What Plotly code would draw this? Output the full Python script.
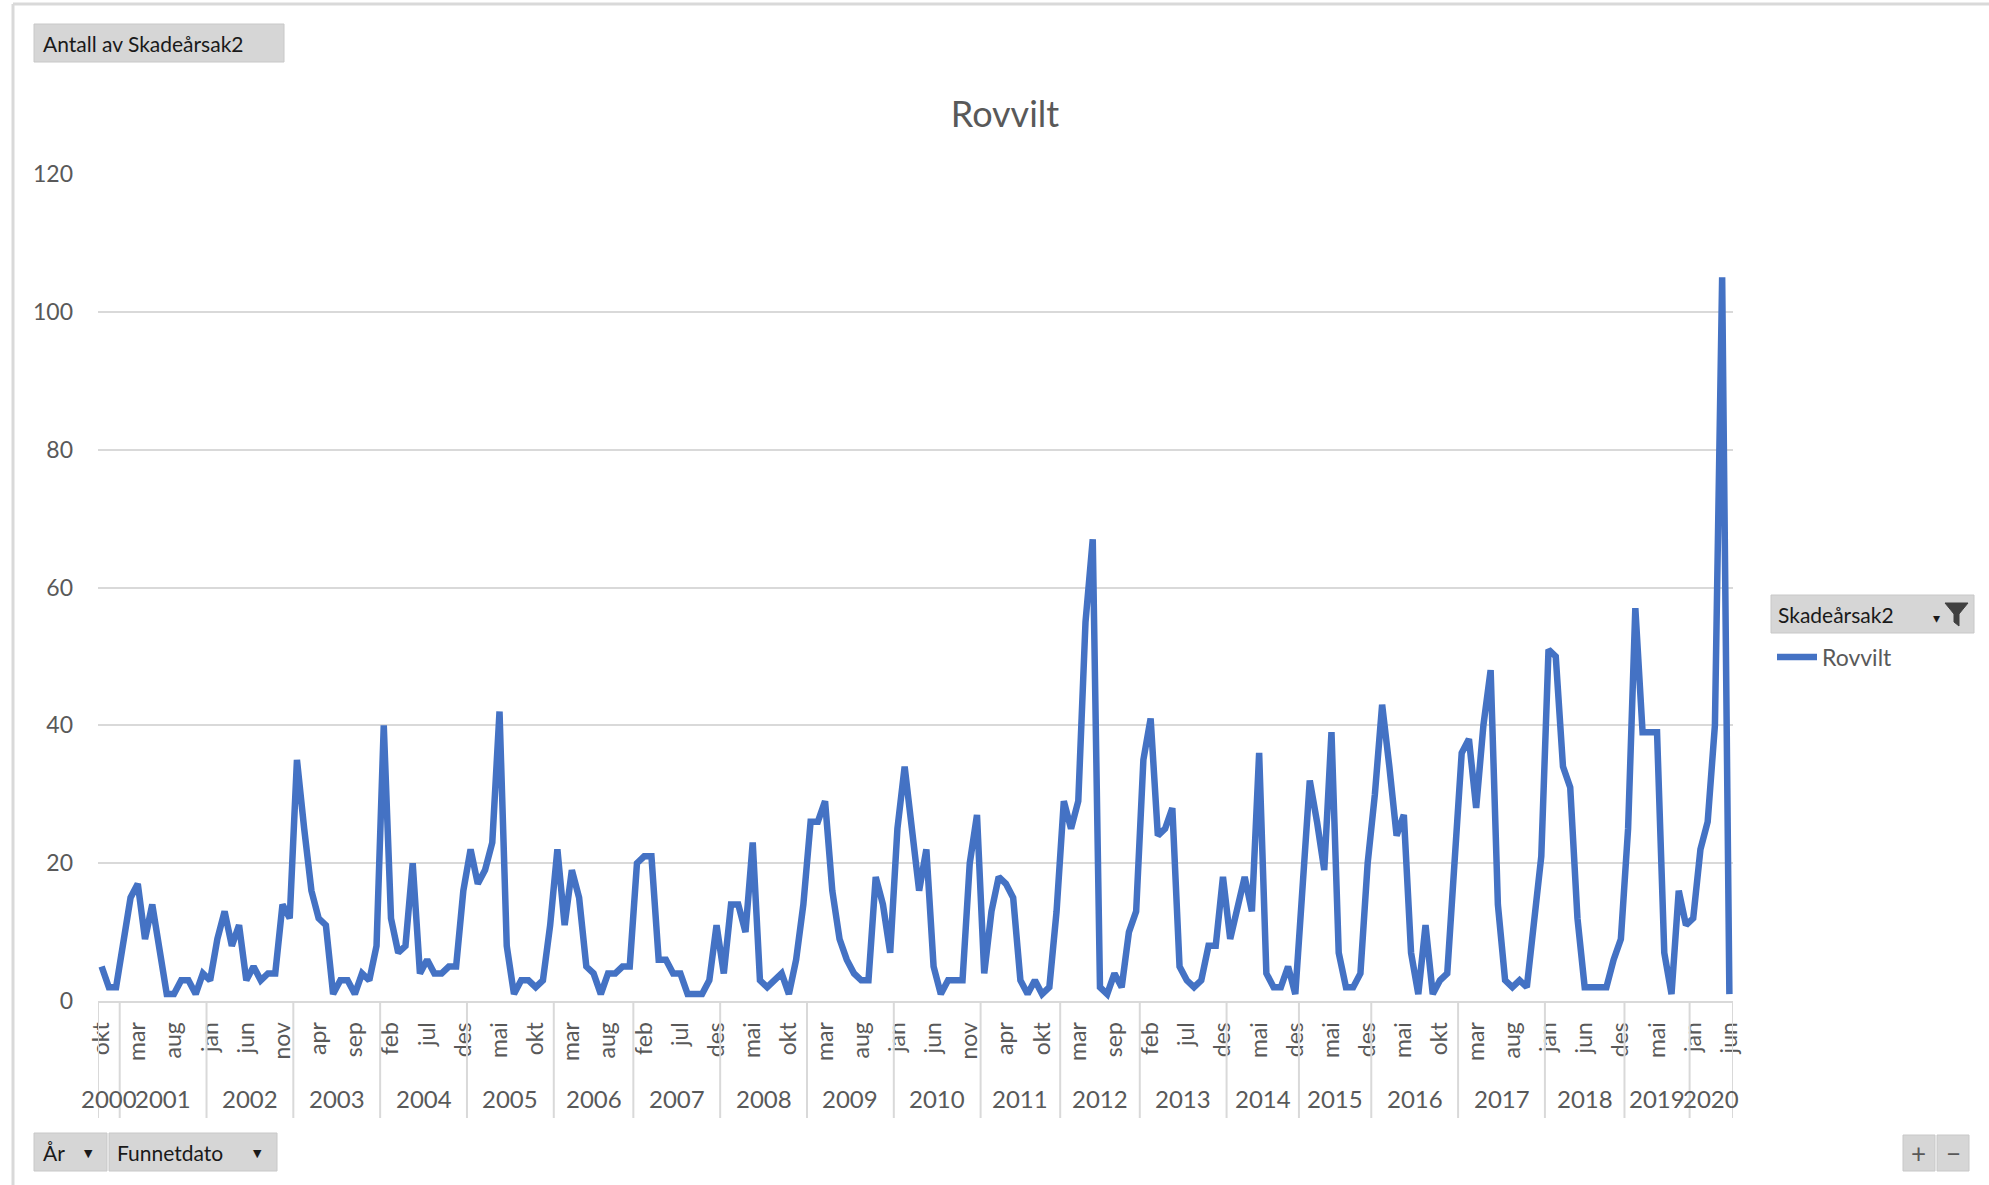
import plotly.graph_objects as go

# ---------------- data ----------------
years = list(range(2000, 2021))
months_by_year = {
    2000: ["okt", "nov", "des"],
    2001: ["jan", "feb", "mar", "apr", "mai", "jun", "jul", "aug", "sep", "okt", "nov", "des"],
    2002: ["jan", "feb", "mar", "apr", "mai", "jun", "jul", "aug", "sep", "okt", "nov", "des"],
    2003: ["jan", "feb", "mar", "apr", "mai", "jun", "jul", "aug", "sep", "okt", "nov", "des"],
    2004: ["jan", "feb", "mar", "apr", "mai", "jun", "jul", "aug", "sep", "okt", "nov", "des"],
    2005: ["jan", "feb", "mar", "apr", "mai", "jun", "jul", "aug", "sep", "okt", "nov", "des"],
    2006: ["jan", "feb", "mar", "apr", "mai", "jun", "jul", "aug", "sep", "okt", "des"],
    2007: ["jan", "feb", "mar", "apr", "mai", "jun", "jul", "aug", "sep", "okt", "nov", "des"],
    2008: ["jan", "feb", "mar", "apr", "mai", "jun", "jul", "aug", "sep", "okt", "nov", "des"],
    2009: ["jan", "feb", "mar", "apr", "mai", "jun", "jul", "aug", "sep", "okt", "nov", "des"],
    2010: ["jan", "feb", "mar", "apr", "mai", "jun", "jul", "aug", "sep", "okt", "nov", "des"],
    2011: ["jan", "feb", "mar", "apr", "mai", "jun", "aug", "sep", "okt", "nov", "des"],
    2012: ["jan", "feb", "mar", "apr", "mai", "jun", "jul", "sep", "okt", "nov", "des"],
    2013: ["jan", "feb", "mar", "apr", "mai", "jun", "jul", "aug", "sep", "okt", "nov", "des"],
    2014: ["jan", "feb", "mar", "apr", "mai", "jun", "jul", "okt", "nov", "des"],
    2015: ["jan", "feb", "mar", "apr", "mai", "jun", "jul", "okt", "nov", "des"],
    2016: ["jan", "feb", "mar", "apr", "mai", "jun", "jul", "aug", "sep", "okt", "nov", "des"],
    2017: ["jan", "feb", "mar", "apr", "mai", "jun", "jul", "aug", "sep", "okt", "nov", "des"],
    2018: ["jan", "feb", "mar", "apr", "mai", "jun", "jul", "aug", "sep", "okt", "des"],
    2019: ["jan", "feb", "mar", "apr", "mai", "jun", "jul", "aug", "sep"],
    2020: ["jan", "feb", "mar", "apr", "mai", "jun"],
}
counts = [
    5, 2, 2,                                            # 2000
    8, 15, 17, 9, 14, 7, 1, 1, 3, 3, 1, 4,              # 2001
    3, 9, 13, 8, 11, 3, 5, 3, 4, 4, 14, 12,             # 2002
    35, 25, 16, 12, 11, 1, 3, 3, 1, 4, 3, 8,            # 2003
    40, 12, 7, 8, 20, 4, 6, 4, 4, 5, 5, 16,             # 2004
    22, 17, 19, 23, 42, 8, 1, 3, 3, 2, 3, 11,           # 2005
    22, 11, 19, 15, 5, 4, 1, 4, 4, 5, 5,                # 2006
    20, 21, 21, 6, 6, 4, 4, 1, 1, 1, 3, 11,             # 2007
    4, 14, 14, 10, 23, 3, 2, 3, 4, 1, 6, 14,            # 2008
    26, 26, 29, 16, 9, 6, 4, 3, 3, 18, 14, 7,           # 2009
    25, 34, 24, 16, 22, 5, 1, 3, 3, 3, 20, 27,          # 2010
    4, 13, 18, 17, 15, 3, 1, 3, 1, 2, 13,               # 2011
    29, 25, 29, 55, 67, 2, 1, 4, 2, 10, 13,             # 2012
    35, 41, 24, 25, 28, 5, 3, 2, 3, 8, 8, 18,           # 2013
    9, 14, 18, 13, 36, 4, 2, 2, 5, 1,                   # 2014
    18, 32, 26, 19, 39, 7, 2, 2, 4, 20,                 # 2015
    30, 43, 34, 24, 27, 7, 1, 11, 1, 3, 4, 20,          # 2016
    36, 38, 28, 40, 48, 14, 3, 2, 3, 2, 12, 21,         # 2017
    51, 50, 34, 31, 12, 2, 2, 2, 2, 6, 9,               # 2018
    25, 57, 39, 39, 39, 7, 1, 16, 11,                   # 2019
    12, 22, 26, 40, 105, 1,                             # 2020
]
series_name = "Rovvilt"
y_ticks = [0, 20, 40, 60, 80, 100, 120]

# ---------------- derived ----------------
cat_year, cat_month = [], []
for yr in years:
    for m in months_by_year[yr]:
        cat_year.append(yr)
        cat_month.append(m)
categories = [f"{m} {y}" for y, m in zip(cat_year, cat_month)]
n = len(categories)

FONT = "Lato"
GREY = "#595959"
W, H = 1989, 1185
L, R, T, B = 98, 1733, 174, 1001   # plot area in px


def xp(px):
    return (px - L) / (R - L)


def yp(py):
    return (B - py) / (B - T)


fig = go.Figure()
fig.add_trace(go.Scatter(
    x=categories, y=counts, mode="lines", name=series_name,
    line=dict(color="#4472C4", width=6.5),
    hoverinfo="x+y",
))

tick_idx = list(range(0, n, 5))
fig.update_xaxes(
    type="category", categoryorder="array", categoryarray=categories,
    range=[-0.5, n - 0.5],
    tickmode="array", tickvals=[categories[i] for i in tick_idx],
    ticktext=[cat_month[i] for i in tick_idx],
    tickangle=-90, tickfont=dict(family=FONT, size=23, color=GREY),
    showgrid=False, showline=True, linecolor="#d9d9d9", linewidth=2,
    ticks="", ticklabelstandoff=10, zeroline=False,
)
fig.update_yaxes(
    range=[0, 120], tickvals=y_ticks, ticks="",
    tickfont=dict(family=FONT, size=23, color=GREY),
    showgrid=True, gridcolor="#d9d9d9", gridwidth=2,
    zeroline=False, showline=False, ticklabelstandoff=24,
)

shapes = []
annotations = []
# year groups: dividers + labels
start = 0
for yr in years:
    cnt = len(months_by_year[yr])
    shapes.append(dict(type="line", xref="x", yref="paper", x0=start - 0.5, x1=start - 0.5,
                       y0=0, y1=yp(1118), line=dict(color="#d9d9d9", width=2)))
    annotations.append(dict(xref="x", yref="paper", x=start + (cnt - 1) / 2, y=yp(1098),
                            text=str(yr), showarrow=False, xanchor="center", yanchor="middle",
                            font=dict(family=FONT, size=24, color=GREY)))
    start += cnt
shapes.append(dict(type="line", xref="x", yref="paper", x0=n - 0.5, x1=n - 0.5,
                   y0=0, y1=yp(1118), line=dict(color="#d9d9d9", width=2)))

# outer chart border (top and left)
shapes.append(dict(type="line", xref="paper", yref="paper", x0=xp(13), x1=xp(1989),
                   y0=yp(4), y1=yp(4), line=dict(color="#d9d9d9", width=3)))
shapes.append(dict(type="line", xref="paper", yref="paper", x0=xp(13), x1=xp(13),
                   y0=yp(4), y1=yp(1185), line=dict(color="#d9d9d9", width=3)))


def button(x0, y0, x1, y1, text, tx, arrow_x=None):
    shapes.append(dict(type="rect", xref="paper", yref="paper",
                       x0=xp(x0), x1=xp(x1), y0=yp(y0), y1=yp(y1),
                       fillcolor="#d6d6d6", line=dict(color="#c8c8c8", width=1), layer="above"))
    annotations.append(dict(xref="paper", yref="paper", x=xp(tx), y=yp((y0 + y1) / 2),
                            xanchor="left", yanchor="middle", text=text, showarrow=False,
                            font=dict(family=FONT, size=21, color="#1a1a1a")))
    if arrow_x is not None:
        annotations.append(dict(xref="paper", yref="paper", x=xp(arrow_x), y=yp((y0 + y1) / 2 + 1),
                                xanchor="center", yanchor="middle", text="▼", showarrow=False,
                                font=dict(family="DejaVu Sans", size=11, color="#1a1a1a")))


button(34, 24, 284, 62, "Antall av Skadeårsak2", 41)
button(34, 1133, 107, 1171, "År", 41, 88)
button(109, 1133, 277, 1171, "Funnetdato", 115, 257)
button(1771, 595, 1974, 633, "Skadeårsak2", 1776)
# dropdown + funnel icon on legend field button
annotations.append(dict(xref="paper", yref="paper", x=xp(1936), y=yp(618), text="▾",
                        xanchor="center", yanchor="middle",
                        showarrow=False, font=dict(family="DejaVu Sans", size=14, color="#1a1a1a")))
fx = [1945, 1968, 1959, 1959, 1954, 1954]
fy = [603, 603, 614, 626, 622, 614]
path = "M " + " L ".join(f"{xp(a)},{yp(b)}" for a, b in zip(fx, fy)) + " Z"
shapes.append(dict(type="path", xref="paper", yref="paper", path=path,
                   fillcolor="#404040", line=dict(color="#404040", width=1), layer="above"))
# +/- buttons bottom right
for bx, sym in [(1903, "+"), (1937, "−")]:
    shapes.append(dict(type="rect", xref="paper", yref="paper",
                       x0=xp(bx), x1=xp(bx + 32), y0=yp(1135), y1=yp(1171),
                       fillcolor="#d6d6d6", line=dict(color="#c8c8c8", width=1), layer="above"))
    annotations.append(dict(xref="paper", yref="paper", x=xp(bx + 16), y=yp(1153), text=sym,
                            xanchor="center", yanchor="middle",
                            showarrow=False, font=dict(family=FONT, size=26, color="#595959")))

fig.update_layout(
    width=W, height=H,
    margin=dict(l=L, r=W - R, t=T, b=H - B, pad=0),
    paper_bgcolor="white", plot_bgcolor="white",
    title=dict(text="Rovvilt", x=1005 / W, xanchor="center", y=1 - 114 / H, yanchor="middle",
               font=dict(family=FONT, size=36, color=GREY)),
    showlegend=True,
    legend=dict(x=xp(1772), y=yp(657), xanchor="left", yanchor="middle",
                font=dict(family=FONT, size=23, color=GREY), bgcolor="rgba(0,0,0,0)",
                itemwidth=40),
    shapes=shapes, annotations=annotations,
    font=dict(family=FONT),
)

fig.write_html("out.html", config={"displayModeBar": False},
               post_script="document.body.style.margin='0';")
